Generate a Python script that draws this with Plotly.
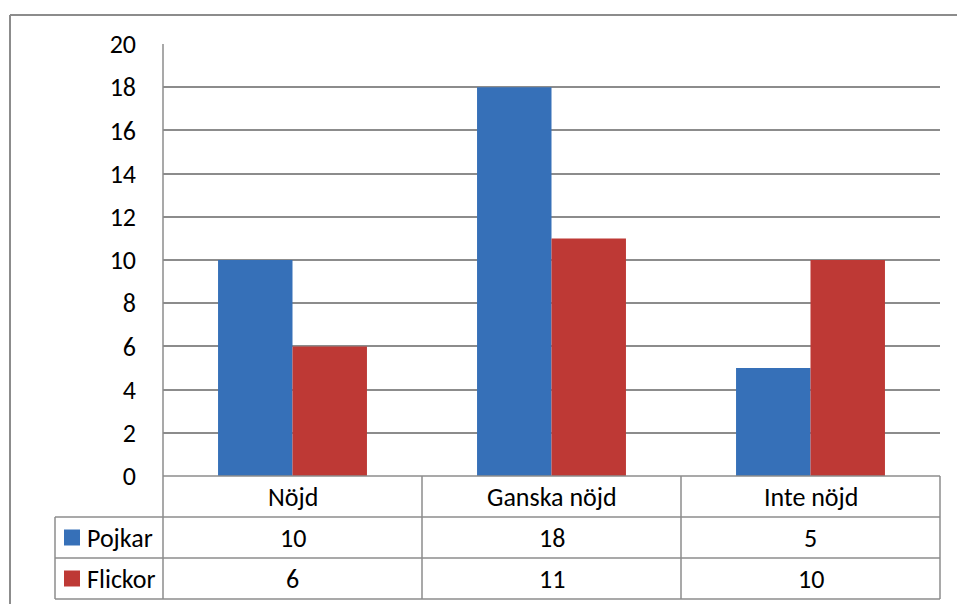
import plotly.graph_objects as go

categories = ["Nöjd", "Ganska nöjd", "Inte nöjd"]
series_names = ["Pojkar", "Flickor"]
pojkar = [10, 18, 5]
flickor = [6, 11, 10]
colors = ["#3670B8", "#BE3935"]

W, H = 957, 604
L, R, T, B = 163, 940, 44, 476  # plot area in pixels
FONT = "Carlito, Calibri, Lato, sans-serif"
FS = 26
GRID = "#8C8C8C"


def px(x):
    return (x - L) / (R - L)


def py(y):
    return (B - y) / (B - T)


fig = go.Figure()
for name, vals, col in zip(series_names, [pojkar, flickor], colors):
    fig.add_trace(go.Bar(x=categories, y=vals, name=name,
                         marker=dict(color=col, line=dict(width=0))))

shapes = []
annotations = []


def line(x0, y0, x1, y1, w=1.5):
    shapes.append(dict(type="line", xref="paper", yref="paper",
                       x0=px(x0), y0=py(y0), x1=px(x1), y1=py(y1),
                       line=dict(color=GRID, width=w), layer="above"))


# outer chart border
line(10, 15, 960, 15, 2)
line(10, 15, 10, 610, 2)

# table geometry
row_y = [476, 517, 558, 599]
col_x = [L + (R - L) * i / 3 for i in range(4)]
leg_x = 55

# horizontal lines
line(L, 476, R, 476)
line(leg_x, 517, R, 517)
line(leg_x, 558, R, 558)
line(leg_x, 599, R, 599)
# vertical lines
line(L, T, L, 599)
for cx in col_x[1:]:
    line(cx, 476, cx, 599)
line(leg_x, 517, leg_x, 599)

# category labels row
for i, c in enumerate(categories):
    annotations.append(dict(x=(col_x[i] + col_x[i + 1]) / 2, y=(476 + 517) / 2,
                            text=c, xanchor="center"))

# data rows
for r, (name, vals, col) in enumerate(zip(series_names, [pojkar, flickor], colors)):
    yc = (row_y[r + 1] + row_y[r + 2]) / 2
    shapes.append(dict(type="rect", xref="paper", yref="paper",
                       x0=px(64), x1=px(80), y0=py(yc + 8), y1=py(yc - 8),
                       fillcolor=col, line=dict(width=0)))
    annotations.append(dict(x=85, y=yc, text=name, xanchor="left"))
    for i, v in enumerate(vals):
        annotations.append(dict(x=(col_x[i] + col_x[i + 1]) / 2, y=yc,
                                text=str(v), xanchor="center"))

for a in annotations:
    a["x"] = px(a["x"])
    a["y"] = py(a["y"])
    a["xref"] = "paper"
    a["yref"] = "paper"
    a["yanchor"] = "middle"
    a["showarrow"] = False
    a["font"] = dict(family=FONT, size=FS, color="#000000")

fig.update_layout(
    width=W, height=H, autosize=False,
    margin=dict(l=L, r=W - R, t=T, b=H - B, pad=0),
    paper_bgcolor="white", plot_bgcolor="white",
    barmode="group", bargap=0.425, bargroupgap=0,
    showlegend=False,
    font=dict(family=FONT, size=FS, color="#000000"),
    xaxis=dict(showticklabels=False, showgrid=False, zeroline=False,
               showline=False, ticks=""),
    yaxis=dict(range=[0, 20], dtick=2, showgrid=True, gridcolor=GRID,
               gridwidth=1.5, zeroline=False, showline=False, ticks="",
               ticklabelstandoff=26, tickfont=dict(family=FONT, size=FS)),
    shapes=shapes, annotations=annotations,
)

fig.write_html("out.html",
               config={"displayModeBar": False},
               post_script="document.body.style.margin='0';document.body.style.overflow='hidden';")
